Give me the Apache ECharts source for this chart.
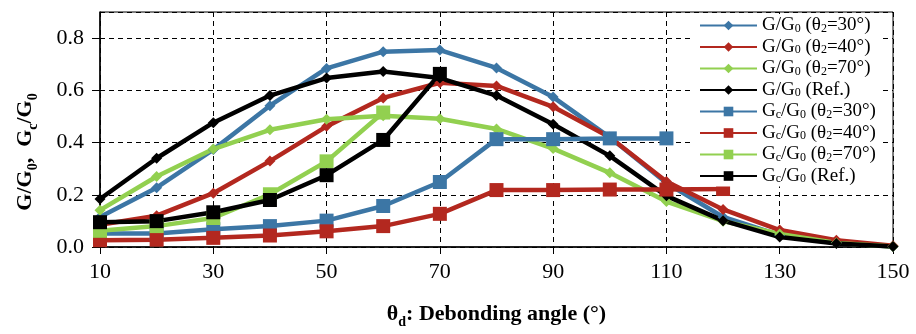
<!DOCTYPE html>
<html>
<head>
<meta charset="utf-8">
<script src="https://cdn.jsdelivr.net/npm/echarts@6/dist/echarts.min.js"></script>
<style>
  html, body { margin: 0; padding: 0; background: #fff; }
  #chart { width: 916px; height: 334px; }
</style>
</head>
<body>
<div id="chart"></div>
<script>
// debonding angle (deg)
const angles = [10, 20, 30, 40, 50, 60, 70, 80, 90, 100, 110, 120, 130, 140, 150];

// G/G0 curves
const gTheta30 = [0.115, 0.227, 0.373, 0.541, 0.684, 0.748, 0.754, 0.686, 0.574, 0.42, 0.245, 0.115, 0.045, 0.015, 0.002];
const gTheta40 = [0.085, 0.12, 0.206, 0.329, 0.462, 0.571, 0.629, 0.617, 0.537, 0.42, 0.251, 0.144, 0.065, 0.026, 0.005];
const gTheta70 = [0.141, 0.27, 0.375, 0.449, 0.489, 0.503, 0.491, 0.452, 0.377, 0.284, 0.174, 0.099, 0.05, 0.015, 0.002];
const gRef = [0.184, 0.34, 0.476, 0.58, 0.647, 0.672, 0.647, 0.58, 0.47, 0.349, 0.196, 0.101, 0.038, 0.013, 0.002];

// Gc/G0 curves (start at 10 deg, shorter ranges)
const gcTheta30 = [0.052, 0.052, 0.068, 0.08, 0.101, 0.157, 0.249, 0.413, 0.413, 0.416, 0.416];
const gcTheta40 = [0.026, 0.028, 0.035, 0.044, 0.06, 0.08, 0.127, 0.218, 0.218, 0.22, 0.22, 0.222];
const gcTheta70 = [0.062, 0.08, 0.111, 0.202, 0.328, 0.515];
const gcRef = [0.095, 0.099, 0.133, 0.18, 0.275, 0.41, 0.663];

const yTicks = ['0.0', '0.2', '0.4', '0.6', '0.8'];

const BLUE = '#3c76a5', RED = '#b3281f', GREEN = '#92d050', BLACK = '#000';
const FONT = '"Liberation Serif", "Times New Roman", serif';

// legend labels with subscripts
const legendRich = {
  'G30': 'G/G{s|0} (θ{s|2}=30°)',
  'G40': 'G/G{s|0} (θ{s|2}=40°)',
  'G70': 'G/G{s|0} (θ{s|2}=70°)',
  'GRef': 'G/G{s|0} (Ref.)',
  'Gc30': 'G{s|c}/G{s|0} (θ{s|2}=30°)',
  'Gc40': 'G{s|c}/G{s|0} (θ{s|2}=40°)',
  'Gc70': 'G{s|c}/G{s|0} (θ{s|2}=70°)',
  'GcRef': 'G{s|c}/G{s|0} (Ref.)'
};

function pairs(vals) {
  return vals.map((v, i) => [angles[i], v]);
}

function mk(name, vals, color, symbol, size) {
  return {
    name: name,
    type: 'line',
    data: pairs(vals),
    symbol: symbol,
    symbolSize: size,
    lineStyle: { width: 4.5, color: color },
    itemStyle: { color: color },
    animation: false
  };
}

const chart = echarts.init(document.getElementById('chart'));
chart.setOption({
  backgroundColor: '#fff',
  grid: {
    left: 100, right: 23, top: 12, bottom: 77,
    show: true, borderColor: '#000', borderWidth: 1
  },
  xAxis: {
    type: 'value',
    min: 10, max: 150, interval: 20,
    name: '{b|θ}{bs|d}{b|: Debonding angle (°)}',
    nameLocation: 'middle',
    nameGap: 54,
    nameTextStyle: {
      rich: {
        b: { fontFamily: FONT, fontWeight: 'bold', fontSize: 22, color: '#000', lineHeight: 24, verticalAlign: 'bottom' },
        bs: { fontFamily: FONT, fontWeight: 'bold', fontSize: 14, color: '#000', lineHeight: 14, verticalAlign: 'bottom', padding: [0, 0, -4, 0] }
      }
    },
    axisLine: { lineStyle: { color: '#000', width: 1.5 } },
    axisTick: { show: true, inside: false, length: 7, lineStyle: { color: '#000' } },
    axisLabel: { fontFamily: FONT, fontSize: 22, color: '#000', margin: 14 },
    splitLine: { show: true, lineStyle: { color: '#000', type: [5, 4], width: 1 } }
  },
  yAxis: {
    type: 'value',
    min: 0, max: 0.9, interval: 0.2,
    axisLine: { show: true, lineStyle: { color: '#000', width: 1.5 } },
    axisTick: { show: true, length: 8, lineStyle: { color: '#000' } },
    axisLabel: {
      fontFamily: FONT, fontSize: 22, color: '#000', margin: 16,
      showMaxLabel: false,
      formatter: v => yTicks[Math.round(v / 0.2)] || ''
    },
    splitLine: { show: true, lineStyle: { color: '#000', type: [5, 4], width: 1 } }
  },
  graphic: [{
    type: 'text',
    x: 24, y: 152,
    rotation: Math.PI / 2,
    style: {
      text: '{b|G/G}{bs|0}{b|,  G}{bs|c}{b|/G}{bs|0}',
      align: 'center', verticalAlign: 'middle',
      rich: {
        b: { fontFamily: FONT, fontWeight: 'bold', fontSize: 22, fill: '#000', lineHeight: 24, verticalAlign: 'bottom' },
        bs: { fontFamily: FONT, fontWeight: 'bold', fontSize: 14, fill: '#000', lineHeight: 14, verticalAlign: 'bottom', padding: [0, 0, -4, 0] }
      }
    }
  }],
  legend: {
    orient: 'vertical',
    left: 693, top: 14,
    backgroundColor: '#fff',
    padding: [2, 6, 1, 6],
    itemWidth: 57, itemHeight: 12,
    itemGap: 2.5,
    formatter: name => legendRich[name],
    textStyle: {
      fontFamily: FONT, fontSize: 19, color: '#000', lineHeight: 18,
      rich: {
        s: { fontFamily: FONT, fontSize: 12, color: '#000', verticalAlign: 'bottom', lineHeight: 11 }
      }
    },
    data: ['G30', 'G40', 'G70', 'GRef', 'Gc30', 'Gc40', 'Gc70', 'GcRef']
  },
  series: [
    mk('G30', gTheta30, BLUE, 'diamond', 11),
    mk('G40', gTheta40, RED, 'diamond', 11),
    mk('G70', gTheta70, GREEN, 'diamond', 11),
    mk('GRef', gRef, BLACK, 'diamond', 11),
    mk('Gc30', gcTheta30, BLUE, 'rect', 14),
    mk('Gc40', gcTheta40, RED, 'rect', 14),
    mk('Gc70', gcTheta70, GREEN, 'rect', 14),
    mk('GcRef', gcRef, BLACK, 'rect', 14)
  ]
});
</script>
</body>
</html>
